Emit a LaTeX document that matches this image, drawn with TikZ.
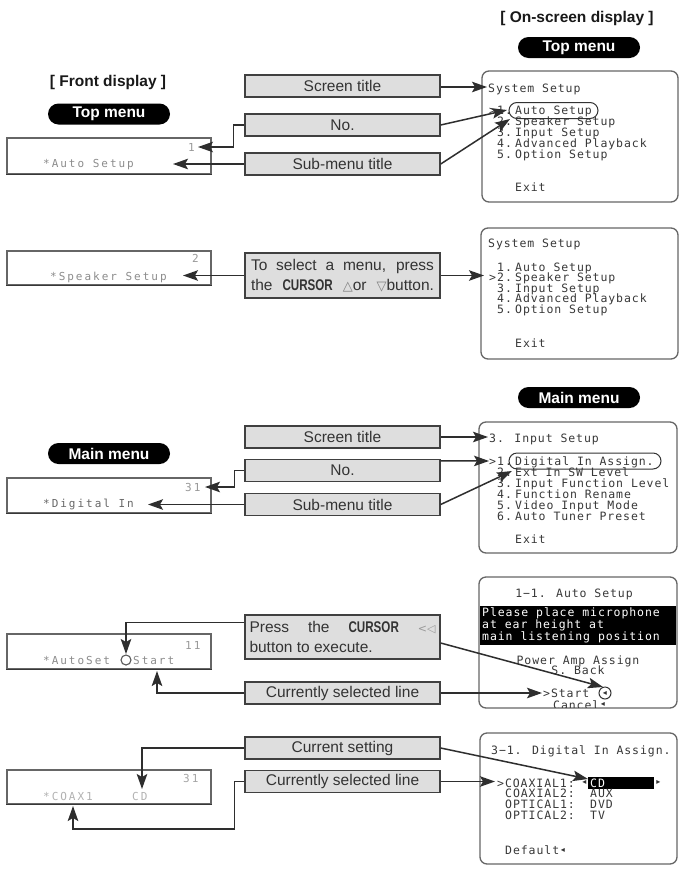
\documentclass[tikz,border=0pt]{standalone}
\usepackage{fontspec}
\usepackage{graphicx}
\setmainfont{Liberation Sans}
\newfontfamily\scrf{DejaVu Sans Mono}[LetterSpace=8]
\newfontfamily\fdf{DejaVu Sans Mono}[LetterSpace=18]
\newfontfamily\symf{DejaVu Sans}
\usetikzlibrary{arrows.meta,calc}
\begin{document}
\begin{tikzpicture}[x=1pt,y=-1pt,
  lbl/.style={draw=black!75, line width=1.4pt, fill=black!13, minimum width=195pt, minimum height=22pt, inner sep=0pt, font=\fontsize{15.5}{18}\selectfont, text=black!80},
  pill/.style={fill=black, rounded corners=10.5pt, minimum width=122pt, minimum height=21pt, inner sep=0pt, text=white, font=\fontsize{15.5}{17}\selectfont\bfseries},
  head/.style={font=\fontsize{15.5}{17}\selectfont\bfseries, text=black!90, inner sep=0pt},
  fdbox/.style={draw=black!60, line width=1.2pt, fill=white, inner sep=0pt},
  scrbox/.style={draw=black!60, line width=1.3pt, rounded corners=7pt, fill=white, inner sep=0pt},
  st/.style={font=\fontsize{11.5}{12}\scrf, text=black!78, anchor=base west, inner sep=0pt},
  stc/.style={st, anchor=base},
  fdt/.style={font=\fontsize{11}{12}\fdf, text=black!45, anchor=base west, inner sep=0pt},
  oval/.style={draw=black!80, line width=1pt, rounded corners=8pt, minimum height=16pt, inner sep=0pt},
  tri/.style={font=\fontsize{8}{8}\symf, text=black!80, inner sep=0pt},
  arr/.style={draw=black!82, line width=1.5pt, -{Stealth[length=15pt,width=10.5pt,inset=3pt]}},
]
\useasboundingbox (0,0) rectangle (681,873);
\fill[white] (0,0) rectangle (681,873);

% ---------- headers ----------
\node[head] (fdh) at (108,82) {[ Front display ]};
\node[head] (osh) at (577,18) {[ On-screen display ]};
\node[pill] (tmf) at (109,114) {Top menu};
\node[pill] (tms) at (579,47.5) {Top menu};
\node[pill] (mmf) at (109,453.5) {Main menu};
\node[pill] (mms) at (579,397.5) {Main menu};

% ---------- front display boxes ----------
\node[fdbox, minimum width=204pt, minimum height=36pt] (fd1) at (109,156) {};
\node[fdbox, minimum width=204pt, minimum height=34pt] (fd2) at (109,268) {};
\node[fdbox, minimum width=204pt, minimum height=35pt] (fd3) at (109,495.5) {};
\node[fdbox, minimum width=204pt, minimum height=35pt] (fd4) at (109,651.5) {};
\node[fdbox, minimum width=204pt, minimum height=34pt] (fd5) at (109,787) {};
\foreach \f in {fd1,fd2,fd3,fd4,fd5}{\draw[black!78, line width=1.5pt] (\f.south west) -- (\f.south east);}

\node[fdt, text=black!40] (fd1n) at (188,151) {1};
\node[fdt] (fd1t) at (43,167) {*Auto Setup};
\node[fdt, text=black!40] (fd2n) at (192,262) {2};
\node[fdt] (fd2t) at (50,280) {*Speaker Setup};
\node[fdt, text=black!40] (fd3n) at (185,491) {31};
\node[fdt, text=black!60] (fd3t) at (43,507) {*Digital In};
\node[fdt, text=black!40] (fd4n) at (185,649) {11};
\node[fdt] (fd4t) at (43,664) {*AutoSet};
\node[circle, draw=black!65, line width=1.1pt, minimum size=10pt, inner sep=0pt] (fd4r) at (126,660) {};
\node[fdt] (fd4s) at (133,664) {Start};
\node[fdt, text=black!35] (fd5n) at (183,782) {31};
\node[fdt, text=black!30] (fd5t) at (43,800) {*COAX1};
\node[fdt, text=black!30] (fd5v) at (132,800) {CD};

% ---------- on-screen boxes ----------
\node[scrbox, minimum width=196pt, minimum height=131pt] (s1) at (580,136.5) {};
\node[scrbox, minimum width=197pt, minimum height=131pt] (s2) at (579.5,293.5) {};
\node[scrbox, minimum width=198pt, minimum height=131pt] (s3) at (578,487.5) {};
\node[scrbox, minimum width=198pt, minimum height=131pt] (s4) at (578,642.5) {};
\node[scrbox, minimum width=197pt, minimum height=131pt] (s5) at (578.5,798.5) {};

% screen 1
\node[st] (s1a) at (488,92) {System Setup};
\node[st] (s1p) at (489,114) {>};
\node[st] (s1n1) at (497,114) {1.};
\node[st] (s1l1) at (515,114) {Auto Setup};
\node[st] (s1n2) at (497,125) {2.};
\node[st] (s1l2) at (515,125) {Speaker Setup};
\node[st] (s1n3) at (497,136) {3.};
\node[st] (s1l3) at (515,136) {Input Setup};
\node[st] (s1n4) at (497,147) {4.};
\node[st] (s1l4) at (515,147) {Advanced Playback};
\node[st] (s1n5) at (497,158) {5.};
\node[st] (s1l5) at (515,158) {Option Setup};
\node[st] (s1x) at (515,191) {Exit};
\node[oval, minimum width=89pt] (ov1) at (553.5,110.5) {};

% screen 2
\node[st] (s2a) at (488,247) {System Setup};
\node[st] (s2n1) at (497,271) {1.};
\node[st] (s2l1) at (515,271) {Auto Setup};
\node[st] (s2p) at (489,281.6) {>};
\node[st] (s2n2) at (497,281.6) {2.};
\node[st] (s2l2) at (515,281.6) {Speaker Setup};
\node[st] (s2n3) at (497,292.2) {3.};
\node[st] (s2l3) at (515,292.2) {Input Setup};
\node[st] (s2n4) at (497,302.8) {4.};
\node[st] (s2l4) at (515,302.8) {Advanced Playback};
\node[st] (s2n5) at (497,313.4) {5.};
\node[st] (s2l5) at (515,313.4) {Option Setup};
\node[st] (s2x) at (515,347) {Exit};

% screen 3
\node[st] (s3a) at (489,442) {3. Input Setup};
\node[st] (s3p) at (489,465) {>};
\node[st] (s3n1) at (497,465) {1.};
\node[st] (s3l1) at (515,465) {Digital In Assign.};
\node[st] (s3n2) at (497,476) {2.};
\node[st] (s3l2) at (515,476) {Ext In SW Level};
\node[st] (s3n3) at (497,487) {3.};
\node[st] (s3l3) at (515,487) {Input Function Level};
\node[st] (s3n4) at (497,498) {4.};
\node[st] (s3l4) at (515,498) {Function Rename};
\node[st] (s3n5) at (497,509) {5.};
\node[st] (s3l5) at (515,509) {Video Input Mode};
\node[st] (s3n6) at (497,520) {6.};
\node[st] (s3l6) at (515,520) {Auto Tuner Preset};
\node[st] (s3x) at (515,543) {Exit};
\node[oval, minimum width=152pt] (ov3) at (585,461) {};

% screen 4
\node[stc] (s4a) at (574,597) {1−1. Auto Setup};
\node[fill=black, minimum width=196pt, minimum height=39pt, inner sep=0pt] (band4) at (578,625.5) {};
\node[st, text=white] (s4b1) at (482,616) {Please place microphone};
\node[st, text=white] (s4b2) at (482,628) {at ear height at};
\node[st, text=white] (s4b3) at (482,640) {main listening position};
\node[stc] (s4c) at (578,664) {Power Amp Assign};
\node[stc] (s4d) at (578,674.5) {S. Back};
\node[st] (s4e) at (543,697) {>Start};
\node[circle, draw=black!80, line width=1pt, minimum size=12pt, inner sep=0pt] (s4r) at (605,693) {};
\node[tri] (s4rt) at (605,693) {◂};
\begin{scope}
\clip (479,577) rectangle (677,707.4);
\node[st] (s4f) at (553,709.5) {Cancel};
\end{scope}
\node[tri] (s4ft) at (603,704.5) {◂};

% screen 5
\node[st] (s5a) at (491,754) {3−1. Digital In Assign.};
\node[st] (s5p) at (497,787) {>COAXIAL1:};
\node[tri] (s5tl) at (584.5,782.5) {◂};
\node[fill=black, minimum width=66pt, minimum height=12pt, inner sep=0pt] (hl5) at (621,782.5) {};
\node[st, text=white] (s5v1) at (590,787) {CD};
\node[tri] (s5tr) at (658.5,782.5) {▸};
\node[st] (s5l2) at (505,797.7) {COAXIAL2:};
\node[st] (s5v2) at (590,797.7) {AUX};
\node[st] (s5l3) at (505,808.4) {OPTICAL1:};
\node[st] (s5v3) at (590,808.4) {DVD};
\node[st] (s5l4) at (505,819) {OPTICAL2:};
\node[st] (s5v4) at (590,819) {TV};
\node[st] (s5x) at (505,854) {Default};
\node[tri] (s5xt) at (563,850) {◂};

% ---------- label boxes ----------
\node[lbl] (st1) at (342.5,86) {Screen title};
\node[lbl] (no1) at (342.5,125) {No.};
\node[lbl] (sub1) at (342.5,164) {Sub-menu title};

\node[lbl, minimum height=45pt, align=left, font=\fontsize{15.5}{20.5}\selectfont] (sel2) at (342.5,275.5)
  {\makebox[183pt][s]{To select a menu, press}\\\makebox[183pt][s]{the \scalebox{.75}[1]{\bfseries CURSOR} {\fontsize{13}{13}\symf\color{black!50}△}or {\fontsize{13}{13}\symf\color{black!50}▽}button.}};

\node[lbl] (st3) at (342.5,437) {Screen title};
\node[lbl] (no3) at (342.5,470.5) {No.};
\node[lbl] (sub3) at (342.5,504.5) {Sub-menu title};

\node[lbl, minimum height=44pt, align=left, font=\fontsize{15.5}{20}\selectfont] (press4) at (342.5,637)
  {\makebox[186pt][s]{Press the \scalebox{.75}[1]{\bfseries CURSOR} {\fontsize{11}{11}\symf\color{black!40}<◁}}\\button to execute.};
\node[lbl] (cur4) at (342.5,693) {Currently selected line};

\node[lbl] (cs5) at (342.5,748) {Current setting};
\node[lbl] (cur5) at (342.5,781.5) {Currently selected line};

% ---------- arrow end points ----------
\coordinate (t1) at (198,147);
\coordinate (t2) at (173,164);
\coordinate (t3) at (487,87);
\coordinate (t4) at (507,110);
\coordinate (t5) at (510,119);
\coordinate (t6) at (183,275.5);
\coordinate (t7) at (484,275.5);
\coordinate (t8) at (205,487);
\coordinate (t9) at (148,504.5);
\coordinate (t10) at (488,437);
\coordinate (t11) at (489,461);
\coordinate (t12) at (512,471);
\coordinate (t13) at (126,654);
\coordinate (t14) at (157,671);
\coordinate (t15) at (603,687);
\coordinate (t16) at (542,693);
\coordinate (t17) at (142,789);
\coordinate (t18) at (73,806);
\coordinate (t19) at (588,779);
\coordinate (t20) at (495,781.5);

% ---------- arrows ----------
\draw[arr] (no1.west) -- ++(-11,0) |- (t1);
\draw[arr] (sub1.west) -- (t2);
\draw[arr] ($(st1.east)+(0,1)$) -- (t3);
\draw[arr] (no1.east) -- (t4);
\draw[arr] (sub1.east) -- (t5);

\draw[arr] (sel2.west) -- (t6);
\draw[arr] (sel2.east) -- (t7);

\draw[arr] (no3.west) -- ++(-10,0) |- (t8);
\draw[arr] (sub3.west) -- (t9);
\draw[arr] (st3.east) -- (t10);
\draw[arr] ($(no3.north east)+(0,2)$) -- (t11);
\draw[arr] (sub3.east) -- (t12);

\draw[arr] ($(press4.north west)+(0,8)$) -| (t13);
\draw[arr] (cur4.west) -| (t14);
\draw[arr] ($(press4.east)+(0,6)$) -- (t15);
\draw[arr] (cur4.east) -- (t16);

\draw[arr] (cs5.west) -| (t17);
\draw[arr] (cur5.west) -- ++(-10,0) |- (73,829) -- (t18);
\draw[arr] (cs5.east) -- (t19);
\draw[arr] (cur5.east) -- (t20);
\end{tikzpicture}
\end{document}
